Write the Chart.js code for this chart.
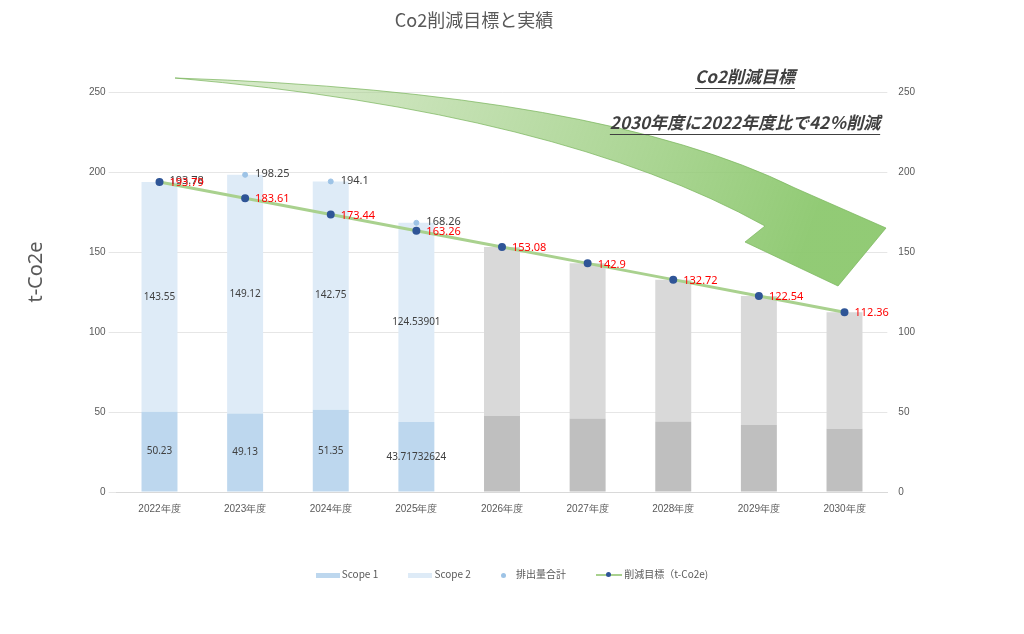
<!DOCTYPE html>
<html><head><meta charset="utf-8">
<script src="https://cdn.jsdelivr.net/npm/chart.js@4"></script>
<style>
body{margin:0;background:#fff;font-family:"Noto Sans CJK JP","Noto Sans",sans-serif;}
#wrap{position:relative;width:1024px;height:634px;}
#legend{position:absolute;top:564px;left:0;width:1024px;text-align:center;font-size:10px;color:#595959;}
#legend span{display:inline-block;margin:0 14px;vertical-align:middle;}
.sw{display:inline-block;width:24px;height:5px;vertical-align:middle;margin-right:2px;}
</style></head>
<body><div id="wrap"><canvas id="c" width="1024" height="634"></canvas>
<div id="legend">
<span><i class="sw" style="background:#bdd7ee"></i>Scope 1</span>
<span><i class="sw" style="background:#deebf7"></i>Scope 2</span>
<span><i style="display:inline-block;width:5px;height:5px;border-radius:50%;background:#9dc3e6;margin-right:10px;vertical-align:middle"></i>排出量合計</span>
<span><i style="display:inline-block;width:26px;height:2px;background:#a9d18e;position:relative;vertical-align:middle;margin-right:2px"><b style="position:absolute;left:10px;top:-2px;width:5px;height:5px;border-radius:50%;background:#2f5597"></b></i>削減目標（t-Co2e)</span>
</div></div>
<script>
// --- Data ---
const years = ['2022年度','2023年度','2024年度','2025年度','2026年度','2027年度','2028年度','2029年度','2030年度'];
const scope1 = [50.23, 49.13, 51.35, 43.71732624, 47.5, 46, 44, 42, 39.5];
const scope2 = [143.55, 149.12, 142.75, 124.53901, 105.58, 96.9, 88.72, 80.54, 72.86];
const totals = [193.78, 198.25, 194.1, 168.26, null, null, null, null, null];
const target = [193.79, 183.61, 173.44, 163.26, 153.08, 142.9, 132.72, 122.54, 112.36];
const actualCount = 4; // years with real results, the rest are planned (gray)

const s1Colors = years.map((y, i) => i < actualCount ? '#bdd7ee' : '#bfbfbf');
const s2Colors = years.map((y, i) => i < actualCount ? '#deebf7' : '#d9d9d9');

// --- Labels + title + arrow drawn on the canvas ---
const overlay = {
  id: 'overlay',
  afterDatasetsDraw(chart) {
    const ctx = chart.ctx;
    ctx.save();
    ctx.font = '10px "Noto Sans", sans-serif';
    ctx.textBaseline = 'middle';
    // scope labels inside bars
    [0, 1].forEach(d => {
      chart.getDatasetMeta(d).data.forEach((bar, i) => {
        if (i >= actualCount) return;
        const v = chart.data.datasets[d].data[i];
        ctx.fillStyle = '#404040'; ctx.textAlign = 'center';
        ctx.fillText(String(v), bar.x, (bar.y + bar.base) / 2);
      });
    });
    // totals
    ctx.font = '11px "Noto Sans", sans-serif';
    chart.getDatasetMeta(2).data.forEach((pt, i) => {
      if (totals[i] == null) return;
      ctx.fillStyle = '#404040'; ctx.textAlign = 'left';
      ctx.fillText(String(totals[i]), pt.x + 10, pt.y - 1);
    });
    // target labels
    chart.getDatasetMeta(3).data.forEach((pt, i) => {
      ctx.fillStyle = '#ff0000'; ctx.textAlign = 'left';
      ctx.fillText(String(target[i]), pt.x + 10, pt.y + 1);
    });
    // big arrow
    ctx.beginPath();
    ctx.moveTo(175, 78);
    ctx.quadraticCurveTo(600, 92, 795, 188);
    ctx.lineTo(886, 228);
    ctx.lineTo(838, 286);
    ctx.lineTo(745, 242);
    ctx.lineTo(765, 226);
    ctx.quadraticCurveTo(560, 112, 175, 78);
    ctx.closePath();
    const g = ctx.createLinearGradient(300, 80, 800, 260);
    g.addColorStop(0, 'rgba(169,209,142,0.5)');
    g.addColorStop(1, 'rgba(140,200,110,0.95)');
    ctx.fillStyle = g; ctx.fill();
    ctx.strokeStyle = 'rgba(120,180,90,0.7)'; ctx.lineWidth = 1; ctx.stroke();
    // annotation text
    ctx.fillStyle = '#404040'; ctx.textAlign = 'center';
    ctx.font = 'italic bold 17px "Noto Sans CJK JP", sans-serif';
    const t1 = 'Co2削減目標', t2 = '2030年度に2022年度比で42％削減';
    ctx.fillText(t1, 745, 77);
    ctx.fillText(t2, 745, 123);
    ctx.fillRect(745 - ctx.measureText(t1).width / 2, 88, ctx.measureText(t1).width, 1);
    ctx.fillRect(745 - ctx.measureText(t2).width / 2, 134, ctx.measureText(t2).width, 1);
    // title + axis title
    ctx.fillStyle = '#595959';
    ctx.font = '18px "Noto Sans CJK JP", sans-serif';
    ctx.fillText('Co2削減目標と実績', 474, 20);
    ctx.translate(36, 272); ctx.rotate(-Math.PI / 2);
    ctx.font = '20px "Noto Sans", sans-serif';
    ctx.fillText('t-Co2e', 0, 0);
    ctx.restore();
  }
};

new Chart(document.getElementById('c'), {
  data: {
    labels: years,
    datasets: [
      { type: 'bar', label: 'Scope 1', data: scope1, backgroundColor: s1Colors, stack: 's', order: 3 },
      { type: 'bar', label: 'Scope 2', data: scope2, backgroundColor: s2Colors, stack: 's', order: 3 },
      { type: 'line', label: '排出量合計', data: totals, showLine: false, pointRadius: 2.5, yAxisID: 'y2',
        pointBackgroundColor: '#9dc3e6', pointBorderColor: '#9dc3e6', order: 2 },
      { type: 'line', label: '削減目標（t-Co2e)', data: target, borderColor: '#a9d18e', borderWidth: 3, yAxisID: 'y2',
        pointRadius: 2.5, pointBackgroundColor: '#2f5597', pointBorderColor: '#2f5597', order: 1 }
    ]
  },
  options: {
    responsive: false, animation: false,
    layout: { padding: { top: 92, left: 86, right: 106, bottom: 116 } },
    plugins: { legend: { display: false }, tooltip: { enabled: false } },
    scales: {
      x: { stacked: true, grid: { display: false }, border: { color: '#d9d9d9' },
           ticks: { color: '#595959', font: { size: 10 } } },
      y: { stacked: true, min: 0, max: 250, ticks: { stepSize: 50, color: '#595959', font: { size: 10 } },
           grid: { color: '#e6e6e6' }, border: { display: false } },
      y2: { position: 'right', min: 0, max: 250, ticks: { stepSize: 50, color: '#595959', font: { size: 10 } },
            grid: { display: false }, border: { display: false } }
    },
    datasets: { bar: { barPercentage: 0.42, categoryPercentage: 1 } }
  },
  plugins: [overlay]
});
</script></body></html>
